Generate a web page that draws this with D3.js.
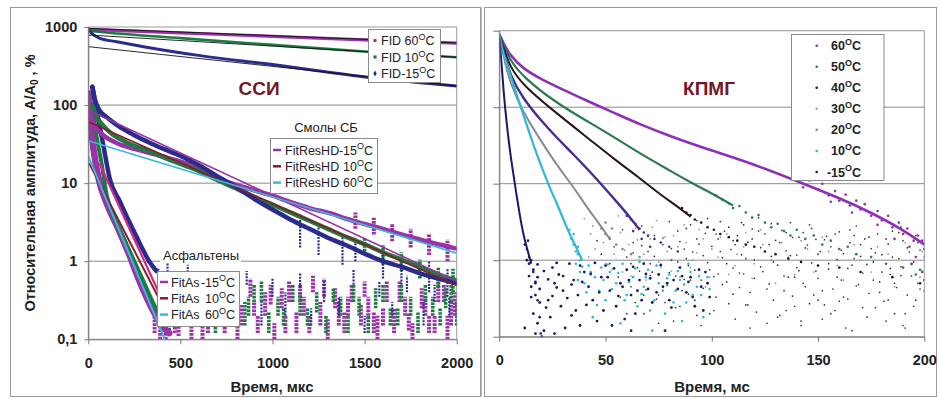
<!DOCTYPE html>
<html><head><meta charset="utf-8">
<script src="https://cdn.jsdelivr.net/npm/d3@7"></script>
<style>body{margin:0;background:#fff;} svg{display:block;font-family:"Liberation Sans",Arial,sans-serif;}</style>
</head><body><svg id="c" width="939" height="399"></svg>
<script>
// ---------------- DATA ----------------
// Left panel (time in microseconds, amplitude in %)
const leftXTicks = [0, 500, 1000, 1500, 2000];
const leftYTicks = [0.1, 1, 10, 100, 1000];
const leftYTickLabels = ["0,1", "1", "10", "100", "1000"];

const fid60 = [[0,935],[250,885],[500,840],[1000,760],[1500,685],[2000,620]];
const fid10 = [[0,900],[100,850],[500,720],[1000,590],[1500,485],[2000,410]];
const fidM15 = [[5,900],[18,830],[64,716],[154,648],[300,560],[607,430],[1000,330],[1530,225],[2000,175]];
const fidFitA = [[0,960],[2000,625]];
const fidFitB = [[0,790],[2000,410]];
const fidFitC = [[0,560],[2000,175]];

const resNavy = [[22,172],[35,120],[54,91],[100,70],[163,54],[250,41],[344,32],[450,25],[525,21],[620,16],[706,12],[800,9],[900,6.3],[1000,4.6],[1100,3.4],[1200,2.6],[1300,2.0],[1400,1.6],[1500,1.25],[1600,1.0],[1700,0.85],[1800,0.7],[1900,0.6],[2000,0.52]];
const resGreen = [[22,100],[45,71],[80,55],[127,43],[200,34],[344,25],[450,19.5],[580,15],[700,11],[800,8.6],[900,6.7],[1000,5.3],[1100,4.2],[1200,3.3],[1300,2.6],[1400,2.05],[1500,1.65],[1600,1.3],[1700,1.05],[1800,0.85],[1900,0.68],[2000,0.56]];
const resPurple = [[4,141],[15,80],[27,58],[72,43],[163,32],[250,27.5],[344,24],[450,20.5],[525,18.2],[650,13.5],[743,10.6],[850,8.8],[1000,6.9],[1100,5.7],[1200,4.8],[1330,4.0],[1400,3.5],[1500,3.0],[1600,2.6],[1700,2.2],[1800,1.9],[1900,1.65],[2000,1.45]];

const fitResM15 = [[0,86],[2000,0.55]];
const fitRes10 = [[0,61],[2000,0.49]];
const fitRes60 = [[0,35],[2000,1.27]];

const asNavy = [[22,172],[50,75],[80,32],[118,11],[172,5.8],[217,3.4],[260,2.1],[290,1.5],[330,1.0],[370,0.75]];
const asGreen = [[22,100],[45,40],[72,18],[100,7],[150,3.2],[200,1.8],[250,1.0],[300,0.55],[350,0.3],[400,0.18]];
const asPurple = [[4,141],[20,40],[40,18],[54,12],[100,5.5],[163,2.6],[220,1.25],[272,0.6],[320,0.33],[362,0.21],[400,0.15],[440,0.12]];

const fitAsM15 = [[60,18],[380,0.41]];
const fitAs10 = [[5,18],[400,0.28]];
const fitAs60 = [[0,22],[420,0.094]];

// noise clusters: [time, low, high]
const purpleStreaks = [[360,0.12,0.25],[390,0.1,0.2],[420,0.1,0.2],[445,0.15,0.3],[470,0.12,0.25],[490,0.11,0.18],[520,0.15,0.3],[540,0.22,0.4],[560,0.1,0.18],[600,0.2,0.35],[620,0.1,0.17],[650,0.12,0.22],[680,0.15,0.3],[700,0.25,0.45],[740,0.12,0.2],[760,0.18,0.3],[790,0.3,0.5],[810,0.1,0.15],[830,0.15,0.28],[880,0.35,0.6],[900,0.2,0.3],[920,0.12,0.2],[960,0.2,0.4],[990,0.28,0.5],[1010,0.1,0.16],[1050,0.25,0.45],[1070,0.12,0.2],[1090,0.3,0.55],[1130,0.12,0.22],[1150,0.3,0.5],[1170,0.2,0.35],[1200,0.12,0.2],[1220,0.4,0.65],[1260,0.15,0.3],[1280,0.35,0.6],[1300,0.1,0.18],[1340,0.25,0.45],[1360,0.15,0.3],[1390,0.12,0.22],[1410,0.2,0.35],[1430,0.3,0.5],[1480,0.15,0.28],[1500,0.35,0.55],[1520,0.18,0.35],[1550,0.12,0.22],[1570,0.1,0.2],[1600,0.15,0.25],[1620,0.3,0.55],[1660,0.12,0.25],[1690,0.3,0.55],[1720,0.2,0.35],[1740,0.13,0.22],[1760,0.1,0.16],[1810,0.25,0.45],[1830,0.2,0.35],[1850,0.12,0.2],[1880,0.12,0.2],[1900,0.3,0.6],[1930,0.3,0.5],[1950,0.1,0.2],[1970,0.15,0.3],[1990,0.2,0.4],
  [1450,2.6,4.2],[1550,2.2,3.6],[1650,1.8,3.0],[1750,1.5,2.6],[1850,1.2,2.2],[1950,1.0,1.9]];
const greenStreaks = [[440,0.13,0.25],[470,0.3,0.45],[500,0.25,0.4],[540,0.15,0.25],[580,0.15,0.3],[610,0.2,0.35],[640,0.3,0.5],[690,0.12,0.2],[720,0.3,0.5],[760,0.2,0.4],[800,0.15,0.28],[850,0.15,0.3],[870,0.2,0.35],[900,0.3,0.5],[940,0.3,0.55],[980,0.12,0.22],[1030,0.2,0.35],[1060,0.15,0.25],[1110,0.3,0.5],[1150,0.2,0.4],[1190,0.15,0.25],[1240,0.22,0.4],[1290,0.12,0.2],[1330,0.3,0.45],[1370,0.2,0.35],[1410,0.12,0.2],[1440,0.3,0.5],[1470,0.2,0.35],[1520,0.12,0.2],[1560,0.25,0.45],[1600,0.3,0.5],[1640,0.15,0.25],[1680,0.15,0.25],[1700,0.3,0.5],[1750,0.2,0.35],[1790,0.12,0.22],[1830,0.3,0.5],[1870,0.2,0.35],[1910,0.15,0.25],[1940,0.25,0.45],[1970,0.3,0.5],[2000,0.15,0.3],
  [1500,1.2,2.0],[1600,0.9,1.6],[1700,0.75,1.3],[1800,0.6,1.05],[1900,0.45,0.85],[1980,0.4,0.8]];
const navyStreaks = [[380,0.3,0.8],[430,0.5,1.0],[480,0.2,0.4],[540,0.6,0.9],[600,0.3,0.5],[660,0.15,0.25],[720,0.4,0.7],[780,0.2,0.35],[860,0.5,0.75],[940,0.15,0.3],[1000,0.35,0.6],[1070,0.2,0.4],[1150,0.45,0.7],[1210,0.15,0.25],[1280,0.3,0.55],[1360,0.2,0.35],[1440,0.5,0.8],[1500,0.12,0.2],[1580,0.35,0.55],[1650,0.2,0.3],[1730,0.4,0.65],[1820,0.15,0.3],[1880,0.3,0.5],[1960,0.2,0.35],
  [1150,1.5,4],[1250,1.2,3],[1380,0.9,2.3],[1450,1.0,2.0],[1600,0.6,1.4],[1700,0.5,1.2],[1850,0.4,1.0],[1950,0.35,0.8]];

const fidLegendLabels = ["FID 60", "FID 10", "FID-15"];
const resLegendNames = ["FitResHD", "FitResHD", "FitResHD"];
const resLegendTemps = ["-15", "10", "60"];
const asLegendNames = ["FitAs", "FitAs", "FitAs"];
const asLegendTemps = ["-15", "10", "60"];

// Right panel (time in ms, amplitude in %)
const rightXTicks = [0, 50, 100, 150, 200];
const rightYTicks = [0.1, 1, 10, 100, 1000];
const cp60 = [[0,900],[2,680],[5,480],[11,320],[20,230],[27,185],[43,115],[55,82],[66,60],[80,42],[100,27],[120,18],[143,10],[160,6.5],[175,4.2],[190,2.5],[200,1.6]];
const cp50 = [[0,900],[2,650],[5,414],[11,251],[27,112],[43,62],[55,39],[66,25],[80,15],[91,10],[100,7.5],[110,5.2]];
const cp40 = [[0,900],[2,600],[5,338],[11,195],[27,83],[43,37],[55,20],[65,12.5],[75,7.5],[84,5],[90,3.7]];
const cp30 = [[0,900],[2,550],[5,263],[11,131],[20,65],[27,40],[35,24],[43,14],[50,8.5],[56,5.5],[62,3.5],[66,2.5]];
const cp20 = [[0,900],[2,450],[5,210],[11,87],[20,35],[27,17.6],[35,9],[41,5],[47,3],[52,1.9]];
const cp10 = [[0,900],[1,600],[2.8,436],[6,220],[11.4,79],[16,32],[20.9,14],[24,8.5],[27,5.6],[30,3.5],[33.4,2.1],[36.6,1.4],[39,1.0]];
const cpM15 = [[0,800],[1,400],[2,159],[3.5,60],[5.2,24],[6.7,13],[8.3,6.5],[10,3.4],[11.4,2.1],[13.8,1.2],[15,0.9]];

const tail60 = [[140,12],[143,9],[146,11],[150,8.5],[152,10],[155,7],[158,8],[160,6],[163,7.2],[165,5.2],[168,6],[170,4.6],[172,5.4],[175,3.8],[178,4.4],[180,3.3],[183,3.8],[185,2.7],[188,3.1],[190,2.2],[192,2.6],[195,1.8],[197,2.1],[200,1.4],[186,1.9],[178,2.9],[193,1.5],[199,1.8],[166,4.2],[156,5.8],[196,1.1],[199,0.7],[194,0.9]];
const tail50 = [[102,7],[105,6.2],[108,5.5],[110,4.8],[113,5.1],[116,4.2],[119,3.6],[122,3.9],[125,3.1],[128,2.7],[131,3.0],[134,2.4],[137,2.1],[140,2.5],[144,1.9],[148,2.1],[152,1.6],[156,1.8],[160,1.4],[164,1.5],[168,1.2],[175,1.1],[182,0.9],[190,0.8],[196,0.65],[200,0.55],[198,0.75]];
const tail40 = [[86,4.8],[88,4.2],[90,3.9],[92,3.4],[95,3.1],[98,2.7],[101,2.5],[104,2.2],[108,2.0],[112,1.8],[116,1.6],[120,1.5],[125,1.3],[130,1.2],[136,1.05],[142,0.95],[150,0.85],[160,0.8],[170,0.7],[185,0.6],[198,0.5]];
const tail30 = [[60,3.8],[62,3.4],[64,3.0],[66,2.6],[68,2.3],[70,2.1],[73,1.9],[76,1.7],[80,1.5],[84,1.3],[63,2.4],[67,1.9],[71,1.5]];
const tail20 = [[48,2.6],[50,2.2],[52,1.9],[55,1.6],[58,1.4],[62,1.2],[66,1.1],[50,3.1],[53,2.6]];
const tail10 = [[34,1.9],[35,1.6],[36,1.3],[37,1.2],[38,1.0],[37,1.5],[35,2.2],[33,2.5]];
const tailM15 = [[12,1.6],[13,1.4],[14,1.1],[15,1.0],[13.5,1.8],[16,0.7],[17,0.5],[18,0.3],[19,0.18],[19.5,0.11]];

const navyNoise = [[14,0.9],[16,0.75],[18,0.6],[15,0.45],[17,0.35],[19,0.28],[16,0.2],[18,0.15],[21,0.12],[24,0.18],[23,0.3],[26,0.5],[25,0.8],[28,0.65],[30,0.4],[29,0.25],[33,0.9],[35,0.55],[37,0.35],[36,0.22],[40,0.7],[42,0.45],[44,0.3],[46,0.16],[48,0.6],[50,0.85],[52,0.4],[55,0.25],[57,0.5],[60,0.75],[62,0.35],[64,0.2],[66,0.55],[68,0.9],[70,0.42],[72,0.28],[75,0.65],[77,0.45],[80,0.3],[82,0.55],[85,0.8],[88,0.38],[90,0.6],[92,0.25],[95,0.45],[97,0.7],[99,0.33],[20,0.1],[31,0.13],[53,0.14],[78,0.12],
  [13,1.0],[14,0.62],[15,0.33],[17,0.52],[18,0.88],[19,0.42],[21,0.72],[22,0.24],[23,0.56],[25,0.34],[27,0.44],[27,0.92],[30,0.62],[32,0.32],[34,0.48],[34,0.19],[38,0.85],[39,0.52],[41,0.26],[43,0.66],[45,0.92],[47,0.38],[49,0.22],[51,0.6],[54,0.78],[56,0.34],[58,0.45],[59,0.17],[61,0.55],[63,0.82],[65,0.4],[67,0.3],[69,0.66],[71,0.58],[74,0.38],[76,0.86],[79,0.5],[81,0.24],[84,0.42],[86,0.62],[89,0.52],[91,0.33],[94,0.75],[96,0.22],[98,0.5],[12,0.13],[17,0.11],[26,0.11],[38,0.14],[62,0.12]];
const cyanNoise = [[36,0.9],[38,0.7],[40,0.5],[42,0.85],[45,0.6],[47,0.4],[50,0.3],[52,0.7],[55,0.5],[58,0.9],[60,0.35],[63,0.6],[65,0.25],[68,0.45],[70,0.75],[73,0.3],[75,0.5],[78,0.2],[80,0.65],[83,0.4],[85,0.55],[88,0.28],[90,0.7],[93,0.45],[95,0.35],[98,0.6],[44,0.18],[57,0.15],[72,0.12],[86,0.16],[48,0.8],[66,0.95],
  [37,0.55],[39,0.82],[41,0.38],[43,0.7],[46,0.26],[49,0.55],[51,0.88],[53,0.42],[56,0.68],[59,0.3],[61,0.52],[64,0.78],[67,0.36],[69,0.6],[71,0.22],[74,0.85],[77,0.4],[79,0.58],[82,0.28],[84,0.72],[87,0.48],[89,0.9],[91,0.35],[94,0.62],[96,0.18],[99,0.42]];
const darkNoise = [[46,1.8],[48,1.2],[50,2.2],[52,0.9],[54,1.5],[56,0.6],[58,2.5],[60,1.1],[62,0.45],[63,1.7],[65,0.8],[67,2.8],[68,0.35],[70,1.3],[72,0.7],[73,2.1],[75,0.5],[77,1.6],[78,0.28],[80,3.2],[81,1.0],[83,0.62],[84,2.4],[86,0.4],[87,1.4],[89,0.85],[90,2.9],[92,0.3],[93,1.9],[95,0.55],[96,1.15],[98,3.5],[99,0.75],[101,0.22],[102,2.2],[104,1.3],[105,0.48],[107,0.9],[108,2.7],[110,0.36],[111,1.6],[113,0.68],[114,3.1],[116,1.05],[117,0.26],[119,1.9],[120,0.58],[122,2.4],[123,0.82],[125,1.3],[126,0.42],[128,3.0],[129,0.95],[131,0.18],[132,1.7],[134,0.62],[135,2.3],[137,1.15],[138,0.34],[140,0.8],[141,2.0],[143,0.5],[144,1.45],[146,0.27],[147,2.6],[149,0.72],[150,1.2],[152,0.4],[153,1.85],[155,0.9],[156,0.2],[158,2.2],[159,0.6],[161,1.35],[162,0.33],[164,0.78],[165,2.5],[167,1.05],[168,0.46],[170,1.6],[171,0.24],[173,0.88],[174,2.0],[176,0.55],[177,1.25],[179,0.38],[180,0.7],[182,1.9],[183,0.3],[185,1.1],[186,0.5],[188,2.3],[189,0.82],[191,0.2],[192,1.45],[194,0.62],[195,0.95],[197,1.7],[198,0.42],[200,1.1],[60,0.2],[75,0.15],[95,0.14],[118,0.13],[142,0.16],[166,0.12],[190,0.14],[85,0.25],[135,0.22],[160,0.29],[110,1.8],[150,0.3],[127,1.6],[103,0.66],[88,1.05],[71,0.9],[57,0.33],[139,0.6],[184,0.65],[196,0.3],
  [61,0.52],[63,1.25],[64,0.28],[66,0.72],[67,1.55],[69,0.41],[70,2.05],[71,0.63],[73,1.12],[74,0.31],[76,0.88],[77,1.95],[79,0.47],[80,0.69],[81,1.42],[83,0.24],[84,0.95],[85,1.75],[87,0.56],[88,2.6],[89,0.36],[91,1.28],[92,0.74],[93,0.19],[94,1.62],[96,0.43],[97,2.25],[98,0.93],[100,1.52],[101,0.61],[102,0.33],[103,1.9],[105,1.08],[106,2.4],[107,0.52],[108,0.27],[109,1.38],[110,0.79],[112,2.1],[113,0.44],[114,1.18],[115,0.66],[117,1.72],[118,0.38],[119,2.55],[120,1.01],[121,0.21],[123,1.46],[124,0.71],[125,2.2],[127,0.49],[128,1.12],[129,0.3],[130,1.82],[131,0.86],[133,2.45],[134,0.4],[135,1.33],[136,0.6],[138,1.98],[139,0.25],[140,1.17],[141,0.73],[143,2.3],[144,0.45],[145,1.58],[147,0.92],[148,0.35],[149,1.88],[150,0.58],[151,1.3],[153,0.26],[154,2.05],[155,0.77],[156,1.5],[157,0.42],[159,1.02],[160,2.35],[161,0.55],[162,1.22],[164,0.31],[165,1.7],[166,0.86],[167,2.1],[169,0.48],[170,1.12],[171,0.68],[172,1.9],[174,0.37],[175,1.42],[176,0.95],[178,2.2],[179,0.52],[180,1.18],[181,0.29],[183,1.62],[184,0.78],[185,2.4],[187,0.44],[188,1.05],[189,0.63],[190,1.8],[192,0.35],[193,1.28],[194,0.88],[196,2.1],[197,0.5],[198,1.36],[199,0.72],[200,0.4],[62,0.9],[68,0.2],[75,0.35],[82,0.16],[90,0.55],[99,0.2],[111,0.17],[116,0.26],[126,0.15],[132,0.19],[142,0.14],[152,0.17],[158,0.22],[163,0.13],[173,0.18],[177,0.24],[182,0.16],[186,0.2],[191,0.13],[195,0.25],[104,3.2],[122,3.6],[146,2.9],[168,2.8],[189,2.7],[137,3.1],[115,2.9],[93,3.3]];
const lightNoise = [[40,3.5],[43,2.2],[45,1.4],[47,3.0],[50,0.9],[52,2.0],[54,1.2],[56,3.8],[58,0.7],[61,1.6],[64,2.6],[66,1.0],[69,0.55],[71,1.9],[74,3.3],[76,0.8],[79,1.3],[82,2.1],[85,0.6],[88,1.7],[91,1.0],[94,2.5],[97,0.45],[100,1.4],[104,2.0],[108,0.65],[112,1.2],[116,2.3],[120,0.9],[124,1.6],[130,0.5],[136,1.1],[142,1.8],[148,0.7],[155,1.3],[162,0.55],[170,1.0],[178,1.5],[186,0.45],[194,0.9],[199,1.3],
  [42,1.1],[44,2.8],[49,1.7],[53,0.75],[57,2.3],[59,1.35],[62,0.62],[65,1.85],[68,1.2],[72,2.7],[75,0.95],[78,2.0],[81,0.72],[84,1.5],[87,2.9],[90,0.8],[93,1.25],[96,1.9],[99,0.6],[103,1.1],[107,2.2],[111,0.85],[115,1.5],[119,0.58],[123,2.5],[128,1.0],[133,1.7],[139,0.65],[145,1.4],[152,2.0],[159,0.85],[167,1.6],[175,0.7],[183,1.2],[191,1.7],[198,0.6]];

const cpLegendTemps = ["60", "50", "40", "30", "20", "10", "-15"];

// ---------------- STYLE ----------------
const C = {purple:"#9A32A8", green:"#1F7A40", navy:"#2B2B8C", red:"#8B1A2A", cyan:"#3DB8DC", pink:"#D0288E", title:"#701828", grid:"#8a8a8a"};
const RC = {c60:"#8E30B4", c50:"#2E7A50", c40:"#2A1420", c30:"#4B2A92", c20:"#8A8A96", c10:"#2CB8D8", cM15:"#1A1A6A"};
const cpLegendColors = ["#8E30B4", "#2E6E5A", "#2A1420", "#A8A8A8", "#909090", "#2CB8D8", "#1A1A6A"];

const svg = d3.select("#c");
const FONT = '"Liberation Sans", Arial, sans-serif';

function tempText(g, x, y, prefix, temp, fs, opts = {}) {
  const t = g.append("text").attr("x", x).attr("y", y).attr("font-size", fs)
    .attr("fill", opts.fill || "#222").attr("font-weight", opts.bold ? "bold" : "normal")
    .attr("text-anchor", opts.anchor || "start");
  t.append("tspan").text(prefix + temp);
  t.append("tspan").attr("font-size", fs * 0.72).attr("dy", -fs * 0.42).text("O");
  t.append("tspan").attr("dy", fs * 0.42).text("C");
  return t;
}

// panel frames
svg.append("rect").attr("x", 10.5).attr("y", 7.5).attr("width", 470).attr("height", 389).attr("fill", "none").attr("stroke", "#9a9a9a");
svg.append("rect").attr("x", 484.5).attr("y", 7.5).attr("width", 452).attr("height", 389).attr("fill", "none").attr("stroke", "#9a9a9a");
svg.append("line").attr("x1", 481.5).attr("x2", 481.5).attr("y1", 7.5).attr("y2", 396.5).attr("stroke", "#bdbdbd");

// ================= LEFT PANEL =================
const xL = d3.scaleLinear([0, 2000], [88.3, 456.7]);
const yL = d3.scaleLog([0.1, 1000], [339.3, 27]);
const gL = svg.append("g");
svg.append("clipPath").attr("id", "clipL").append("rect").attr("x", 88.3).attr("y", 26).attr("width", 368.4).attr("height", 313.3);

gL.selectAll("line.grid").data([1, 10, 100]).join("line")
  .attr("x1", 88.3).attr("x2", 456.7).attr("y1", d => yL(d)).attr("y2", d => yL(d))
  .attr("stroke", C.grid).attr("stroke-width", 1);
gL.append("rect").attr("x", 88.3).attr("y", 27).attr("width", 368.4).attr("height", 312.3).attr("fill", "none").attr("stroke", "#9a9a9a");

const dataL = gL.append("g").attr("clip-path", "url(#clipL)");
const lineL = d3.line().x(d => xL(d[0])).y(d => yL(d[1])).curve(d3.curveMonotoneX);

function streaks(g, arr, X, Y, color, w, dash) {
  g.append("g").selectAll("line").data(arr).join("line")
    .attr("x1", d => X(d[0])).attr("x2", d => X(d[0]))
    .attr("y1", d => Y(d[1])).attr("y2", d => Y(d[2]))
    .attr("stroke", color).attr("stroke-width", w).attr("stroke-dasharray", dash);
}
streaks(dataL, purpleStreaks, xL, yL, C.purple, 4, "2.6,1");
streaks(dataL, greenStreaks, xL, yL, C.green, 3.6, "2.6,1");
streaks(dataL, navyStreaks, xL, yL, C.navy, 2.2, "2,1.2");

[[asPurple, C.purple, 6.5], [asGreen, C.green, 4], [asNavy, C.navy, 4.5]].forEach(([d, c, w]) =>
  dataL.append("path").attr("d", lineL(d)).attr("fill", "none").attr("stroke", c).attr("stroke-width", w).attr("stroke-linecap", "round"));
[[resPurple, C.purple, 4.5], [resGreen, C.green, 4.5], [resNavy, C.navy, 4.5]].forEach(([d, c, w]) =>
  dataL.append("path").attr("d", lineL(d)).attr("fill", "none").attr("stroke", c).attr("stroke-width", w).attr("stroke-linecap", "round"));
[[fid60, C.purple, 3.2], [fid10, C.green, 2.6], [fidM15, C.navy, 3]].forEach(([d, c, w]) =>
  dataL.append("path").attr("d", lineL(d)).attr("fill", "none").attr("stroke", c).attr("stroke-width", w));
[fidFitA, fidFitB, fidFitC].forEach(d =>
  dataL.append("path").attr("d", lineL(d)).attr("fill", "none").attr("stroke", "#111").attr("stroke-width", 0.9));
[[fitResM15, C.purple], [fitRes10, C.red], [fitRes60, C.cyan]].forEach(([d, c]) =>
  dataL.append("path").attr("d", lineL(d)).attr("fill", "none").attr("stroke", c).attr("stroke-width", 1.6));
[[fitAsM15, C.pink, 2.2], [fitAs10, C.red, 2], [fitAs60, C.cyan, 2]].forEach(([d, c, w]) =>
  dataL.append("path").attr("d", lineL(d)).attr("fill", "none").attr("stroke", c).attr("stroke-width", w));

const axL = gL.append("g").attr("transform", "translate(88.3,0)")
  .call(d3.axisLeft(yL).tickValues(leftYTicks).tickFormat((d, i) => leftYTickLabels[i]).tickSize(4).tickSizeOuter(0));
const axLB = gL.append("g").attr("transform", "translate(0,339.3)")
  .call(d3.axisBottom(xL).tickValues(leftXTicks).tickFormat(d3.format("d")).tickSize(5).tickSizeOuter(0));
[axL, axLB].forEach(a => {
  a.selectAll("path,line").attr("stroke", "#777");
  a.selectAll("text").attr("font-family", FONT).attr("font-size", 14.5).attr("font-weight", "bold").attr("fill", "#222");
});
axL.selectAll("text").attr("x", -11);
axLB.selectAll("text").attr("y", 18);

gL.append("text").attr("x", 272).attr("y", 392).attr("text-anchor", "middle").attr("font-size", 15).attr("font-weight", "bold").attr("fill", "#222").text("Время, мкс");
const yt = gL.append("text").attr("transform", "translate(35,183) rotate(-90)").attr("text-anchor", "middle")
  .attr("font-size", 14.5).attr("font-weight", "bold").attr("fill", "#222");
yt.append("tspan").text("Относительная амплитуда, A/A");
yt.append("tspan").attr("font-size", 10).attr("dy", 3).text("0");
yt.append("tspan").attr("dy", -3).text(" , %");

gL.append("text").attr("x", 259).attr("y", 95).attr("text-anchor", "middle").attr("font-size", 19).attr("font-weight", "bold").attr("fill", C.title).text("ССИ");
gL.append("text").attr("x", 326).attr("y", 132).attr("text-anchor", "middle").attr("font-size", 13).attr("fill", "#222").text("Смолы СБ");
gL.append("rect").attr("x", 160).attr("y", 247).attr("width", 81).attr("height", 16).attr("fill", "#fff");
gL.append("text").attr("x", 201).attr("y", 260).attr("text-anchor", "middle").attr("font-size", 13).attr("fill", "#222").text("Асфальтены");

const fidLeg = gL.append("g");
fidLeg.append("rect").attr("x", 368.5).attr("y", 29.5).attr("width", 72).attr("height", 53).attr("fill", "#fff").attr("stroke", "#8a8a8a");
const fidColors = [C.purple, C.green, C.navy];
const fidShapes = [d3.symbolCircle, d3.symbolSquare, d3.symbolDiamond];
fidLegendLabels.forEach((lab, i) => {
  const y = 40.5 + i * 16.5;
  fidLeg.append("path").attr("d", d3.symbol(fidShapes[i], 10)()).attr("transform", `translate(375,${y})`).attr("fill", fidColors[i]);
  const t = fidLeg.append("text").attr("x", 381).attr("y", y + 4.5).attr("font-size", 12.5).attr("fill", "#222");
  t.append("tspan").text(lab);
  t.append("tspan").attr("font-size", 9).attr("dy", -5).text("O");
  t.append("tspan").attr("dy", 5).text("C");
});

const resLeg = gL.append("g");
resLeg.append("rect").attr("x", 270.5).attr("y", 138.5).attr("width", 107).attr("height", 55).attr("fill", "#fff").attr("stroke", "#8a8a8a");
const resColors = [C.purple, C.red, C.cyan];
resLegendNames.forEach((n, i) => {
  const y = 150 + i * 16.3;
  resLeg.append("line").attr("x1", 273).attr("x2", 281).attr("y1", y).attr("y2", y).attr("stroke", resColors[i]).attr("stroke-width", 2.5);
  resLeg.append("text").attr("x", 285).attr("y", y + 4.5).attr("font-size", 12.5).attr("fill", "#222").text(n);
  tempText(resLeg, 373, y + 4.5, "", resLegendTemps[i], 12.5, {anchor: "end"});
});

const asLeg = gL.append("g");
asLeg.append("rect").attr("x", 157.5).attr("y", 271.5).attr("width", 82).attr("height", 55).attr("fill", "#fff").attr("stroke", "#8a8a8a");
asLegendNames.forEach((n, i) => {
  const y = 282 + i * 16.3;
  asLeg.append("line").attr("x1", 160).attr("x2", 168).attr("y1", y).attr("y2", y).attr("stroke", resColors[i]).attr("stroke-width", 2.5);
  asLeg.append("text").attr("x", 171).attr("y", y + 4.5).attr("font-size", 12.5).attr("fill", "#222").text(n);
  tempText(asLeg, 235, y + 4.5, "", asLegendTemps[i], 12.5, {anchor: "end"});
});

// ================= RIGHT PANEL =================
const xR = d3.scaleLinear([0, 200], [499.3, 924.3]);
const yR = d3.scaleLog([0.1, 1000], [336.7, 30.7]);
const gR = svg.append("g");
svg.append("clipPath").attr("id", "clipR").append("rect").attr("x", 499.3).attr("y", 30).attr("width", 425).attr("height", 306.7);

gR.selectAll("line.grid").data([1, 10, 100]).join("line")
  .attr("x1", 499.3).attr("x2", 924.3).attr("y1", d => yR(d)).attr("y2", d => yR(d))
  .attr("stroke", C.grid).attr("stroke-width", 1);
gR.append("rect").attr("x", 499.3).attr("y", 30.7).attr("width", 425).attr("height", 306).attr("fill", "none").attr("stroke", "#9a9a9a");

const dataR = gR.append("g").attr("clip-path", "url(#clipR)");
const lineR = d3.line().x(d => xR(d[0])).y(d => yR(d[1])).curve(d3.curveBasis);

function dots(g, arr, color, r) {
  g.append("g").selectAll("circle").data(arr).join("circle")
    .attr("cx", d => xR(d[0])).attr("cy", d => yR(d[1])).attr("r", r).attr("fill", color);
}
dots(dataR, lightNoise, "#9a9a9a", 0.9);
dots(dataR, darkNoise, "#333", 0.85);
dots(dataR, cyanNoise, RC.c10, 1.3);
dots(dataR, navyNoise, RC.cM15, 1.4);

const cpSeries = [[cp60, RC.c60, 2.6], [cp50, RC.c50, 2.2], [cp40, RC.c40, 2], [cp30, RC.c30, 2.4], [cp20, RC.c20, 2], [cp10, RC.c10, 2.2], [cpM15, RC.cM15, 2]];
cpSeries.forEach(([d, c, w]) =>
  dataR.append("path").attr("d", lineR(d)).attr("fill", "none").attr("stroke", c).attr("stroke-width", w));
[[tail60, RC.c60], [tail50, RC.c50], [tail40, RC.c40], [tail30, RC.c30], [tail20, RC.c20], [tail10, RC.c10], [tailM15, RC.cM15]]
  .forEach(([d, c]) => dots(dataR, d, c, 1.3));

const axR = gR.append("g").attr("transform", "translate(499.3,0)")
  .call(d3.axisLeft(yR).tickValues(rightYTicks).tickFormat("").tickSize(6).tickSizeOuter(0));
const axRB = gR.append("g").attr("transform", "translate(0,336.7)")
  .call(d3.axisBottom(xR).tickValues(rightXTicks).tickFormat(d3.format("d")).tickSize(5).tickSizeOuter(0));
[axR, axRB].forEach(a => {
  a.selectAll("path,line").attr("stroke", "#777");
  a.selectAll("text").attr("font-family", FONT).attr("font-size", 14.5).attr("font-weight", "bold").attr("fill", "#222");
});
axRB.selectAll("text").attr("y", 18);

gR.append("text").attr("x", 712).attr("y", 392).attr("text-anchor", "middle").attr("font-size", 15).attr("font-weight", "bold").attr("fill", "#222").text("Время, мс");
gR.append("text").attr("x", 709).attr("y", 95).attr("text-anchor", "middle").attr("font-size", 19).attr("font-weight", "bold").attr("fill", C.title).text("КПМГ");

const cpLeg = gR.append("g");
cpLeg.append("rect").attr("x", 791.5).attr("y", 34.5).attr("width", 92.5).attr("height", 146).attr("fill", "#fff").attr("stroke", "#8a8a8a");
cpLegendTemps.forEach((t, i) => {
  const y = 45.7 + i * 21.05;
  cpLeg.append("circle").attr("cx", 816.7).attr("cy", y).attr("r", 1.3).attr("fill", cpLegendColors[i]);
  tempText(cpLeg, 861, y + 4.5, "", t, 12.5, {anchor: "end", bold: true});
});
</script></body></html>
